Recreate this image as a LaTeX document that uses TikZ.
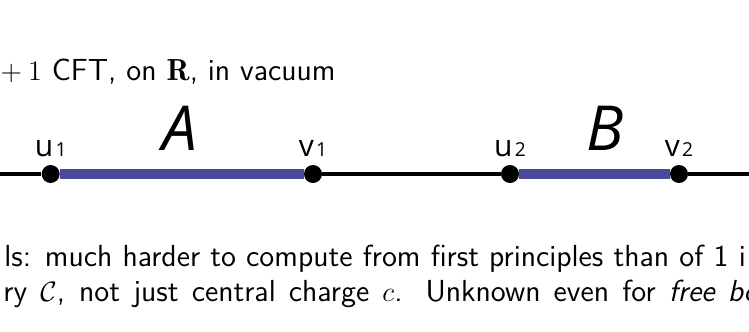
\documentclass[tikz,border=0pt]{standalone}
\usepackage{fontspec}
\usepackage{xcolor}
\usepackage{tikz}
\usetikzlibrary{positioning}
\usepackage{amsmath, amssymb}
\newfontfamily\figfont{Open Sans}
\definecolor{segblue}{HTML}{4A4A9A}
\newcommand{\idx}[1]{\kern1pt\raisebox{-0.4pt}{\fontsize{8.2}{10}\selectfont #1}}

\begin{document}
\begin{tikzpicture}[
  body/.style={anchor=base west, inner sep=0pt, font=\fontsize{13}{16}\selectfont\sffamily},
  dot/.style={circle, fill=black, inner sep=0pt, minimum size=0.27cm},
  lbl/.style={anchor=base, inner sep=0pt, font=\fontsize{12.8}{15}\selectfont\figfont},
  big/.style={anchor=base, inner sep=0pt, yshift=0.36cm, text=black, font=\fontsize{26.5}{30}\selectfont\figfont\itshape},
  axis/.style={black, line width=1.3pt},
  seg/.style={segblue, line width=4.3pt}
]
\useasboundingbox (0,0) rectangle (11.235,-4.965);
\node[body, anchor=base east] (title) at (5.04,-1.21) {$1+1$ CFT, on $\mathbf{R}$, in vacuum};
\coordinate (left) at (0,-2.61);
\coordinate (right) at (11.235,-2.61);
\node[dot] (u1) at (0.76,-2.61) {};
\node[dot] (v1) at (4.695,-2.61) {};
\node[dot] (u2) at (7.65,-2.61) {};
\node[dot] (v2) at (10.185,-2.61) {};
\draw[axis] (left) -- (u1);
\draw[axis] (v1) -- (u2);
\draw[axis] (v2) -- (right);
\draw[seg] (u1) -- node[big, pos=0.49] (A) {A} (v1);
\draw[seg] (u2) -- node[big, pos=0.57] (B) {B} (v2);
\node[lbl, yshift=0.27cm] (u1lbl) at (u1) {u\idx{1}};
\node[lbl, yshift=0.27cm] (v1lbl) at (v1) {v\idx{1}};
\node[lbl, yshift=0.27cm] (u2lbl) at (u2) {u\idx{2}};
\node[lbl, yshift=0.27cm] (v2lbl) at (v2) {v\idx{2}};
% text below the line
\node[body] (line1) at (0.06,-3.99) {\makebox[11.12cm][s]{ls: much harder to compute from first principles than of 1 i}};
\node[body] (line2) at (0.045,-4.52) {\makebox[11.35cm][s]{ry $\mathcal{C}$, not just central charge $c$. Unknown even for \emph{free bo}}};
\end{tikzpicture}
\end{document}
